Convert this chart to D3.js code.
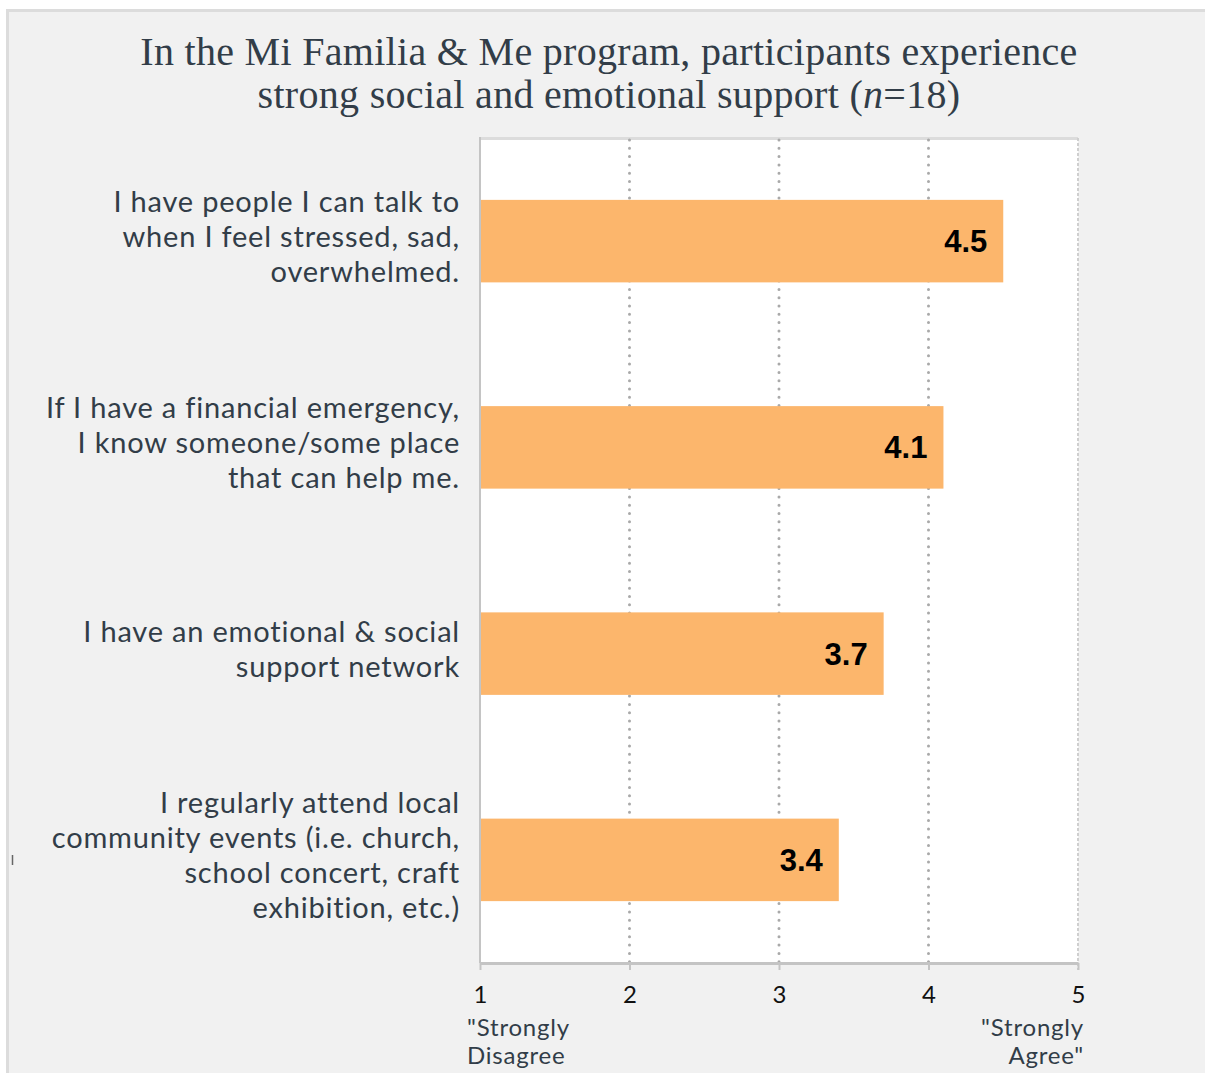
<!DOCTYPE html>
<html><head><meta charset="utf-8">
<script src="https://cdn.jsdelivr.net/npm/d3@7"></script>
<style>
html,body{margin:0;padding:0;background:#fff;}
svg{display:block;}
</style></head>
<body>
<svg id="chart" width="1205" height="1073"></svg>
<script>
const titleLines = ["In the Mi Familia & Me program, participants experience", "strong social and emotional support ("];
const categories = [
  ["I have people I can talk to", "when I feel stressed, sad,", "overwhelmed."],
  ["If I have a financial emergency,", "I know someone/some place", "that can help me."],
  ["I have an emotional & social", "support network"],
  ["I regularly attend local", "community events (i.e. church,", "school concert, craft", "exhibition, etc.)"]
];
const values = [4.5, 4.1, 3.7, 3.4];
const ticks = [1, 2, 3, 4, 5];
const leftAnchor = ['"Strongly', 'Disagree'];
const rightAnchor = ['"Strongly', 'Agree"'];

const svg = d3.select("#chart");
const textColor = "#323d48";

// panel
svg.append("rect").attr("x", 7.5).attr("y", 10.5).attr("width", 1205).attr("height", 1080)
  .attr("fill", "#f1f1f1").attr("stroke", "#dcdcdc").attr("stroke-width", 3);

// title
const t = svg.append("text").attr("text-anchor", "middle")
  .attr("font-family", "Liberation Serif, serif").attr("font-size", 40).attr("fill", textColor)
  .attr("letter-spacing", 0.3);
t.append("tspan").attr("x", 609).attr("y", 65).text(titleLines[0]);
const t2 = t.append("tspan").attr("x", 609).attr("y", 108);
t2.append("tspan").text(titleLines[1]);
t2.append("tspan").attr("font-style", "italic").text("n");
t2.append("tspan").text("=18)");

const x = d3.scaleLinear().domain([1, 5]).range([480, 1078]);
const y = d3.scaleBand().domain(d3.range(values.length)).range([138, 963]).paddingInner(0.6).paddingOuter(0.3);

// plot bg
svg.append("rect").attr("x", x(1)).attr("y", 138).attr("width", x(5) - x(1)).attr("height", 963 - 138).attr("fill", "#fff");
svg.append("line").attr("x1", x(1)).attr("x2", x(5)).attr("y1", 138.5).attr("y2", 138.5).attr("stroke", "#dcdcdc").attr("stroke-width", 3);

// gridlines
svg.selectAll(".grid").data(ticks.slice(1, 4)).enter().append("line")
  .attr("x1", d => x(d)).attr("x2", d => x(d)).attr("y1", 140).attr("y2", 963)
  .attr("stroke", "#a9a9a9").attr("stroke-width", 3).attr("stroke-linecap", "round").attr("stroke-dasharray", "0,8.3");
svg.append("line").attr("x1", x(5)).attr("x2", x(5)).attr("y1", 138).attr("y2", 970)
  .attr("stroke", "#cfcfcf").attr("stroke-width", 2).attr("stroke-dasharray", "3,2");

// bars
svg.selectAll(".bar").data(values).enter().append("rect")
  .attr("x", x(1)).attr("y", (d, i) => y(i)).attr("width", d => x(d) - x(1)).attr("height", y.bandwidth())
  .attr("fill", "#fcb66c");

// value labels
svg.selectAll(".val").data(values).enter().append("text")
  .attr("x", d => x(d) - 16).attr("y", (d, i) => y(i) + y.bandwidth() / 2 + 11)
  .attr("text-anchor", "end").attr("font-family", "Liberation Sans, Arial, sans-serif")
  .attr("font-weight", "bold").attr("font-size", 31).attr("fill", "#000")
  .text(d => d.toFixed(1));

// left axis line
svg.append("line").attr("x1", x(1)).attr("x2", x(1)).attr("y1", 137).attr("y2", 963).attr("stroke", "#c4c4c4").attr("stroke-width", 2);

// bottom axis
const axis = d3.axisBottom(x).tickValues(ticks).tickFormat(d3.format("d")).tickSize(7).tickSizeOuter(0);
const ag = svg.append("g").attr("transform", "translate(0,963)").call(axis);
ag.select(".domain").attr("stroke", "#c4c4c4").attr("stroke-width", 3);
ag.selectAll(".tick line").attr("stroke", "#c4c4c4").attr("stroke-width", 2);
ag.selectAll(".tick text").attr("font-family", "Lato, sans-serif").attr("font-size", 24).attr("fill", "#111")
  .attr("y", 0).attr("dy", 40);

// anchor labels
const la = svg.append("text").attr("font-family", "Lato, sans-serif").attr("font-size", 24).attr("fill", textColor)
  .attr("text-anchor", "start").attr("letter-spacing", 0.8);
leftAnchor.forEach((s, i) => la.append("tspan").attr("x", 467).attr("y", 1036 + i * 28).text(s));
const ra = svg.append("text").attr("font-family", "Lato, sans-serif").attr("font-size", 24).attr("fill", textColor)
  .attr("text-anchor", "end").attr("letter-spacing", 0.8);
rightAnchor.forEach((s, i) => ra.append("tspan").attr("x", 1084).attr("y", 1036 + i * 28).text(s));

// category labels
const lineH = 35;
categories.forEach((lines, i) => {
  const cy = y(i) + y.bandwidth() / 2 - 4;
  const top = cy - (lines.length - 1) * lineH / 2;
  const tx = svg.append("text").attr("text-anchor", "end").attr("font-family", "Lato, sans-serif")
    .attr("font-size", 29).attr("fill", textColor).attr("letter-spacing", 0.8);
  lines.forEach((s, j) => tx.append("tspan").attr("x", 460).attr("y", top + j * lineH + 10).text(s));
});

// small stray mark at left
svg.append("line").attr("x1", 12.5).attr("x2", 12.5).attr("y1", 855).attr("y2", 865).attr("stroke", "#666").attr("stroke-width", 1.5);
</script>
</body></html>
